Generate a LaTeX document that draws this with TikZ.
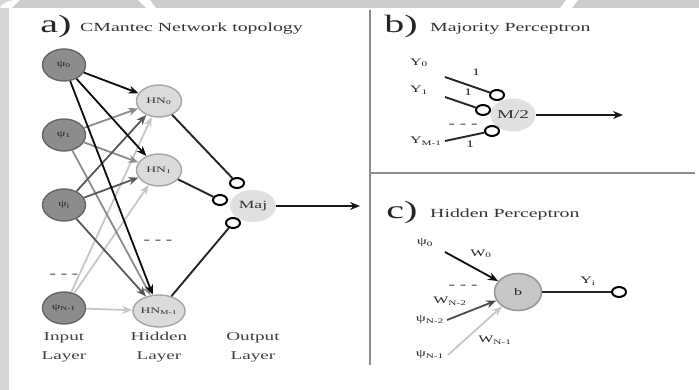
\documentclass[tikz,border=0pt]{standalone}
\usepackage{fontspec}
\setmainfont{Liberation Serif}
\usepackage{graphicx}
\usetikzlibrary{shapes.geometric,arrows.meta}
% the whole figure is set with horizontally widened glyphs
\newcommand\wide[1]{\scalebox{1.6}[1]{#1}}
\begin{document}
\begin{tikzpicture}[x=1pt,y=-1pt,
  inputnode/.style={ellipse, draw=black!60, line width=1.4pt, fill=black!45,
    minimum width=43pt, minimum height=32pt, inner sep=0pt,
    font=\fontsize{8.5}{8.5}\selectfont, text=black!85},
  hiddennode/.style={ellipse, draw=black!35, line width=1.4pt, fill=black!14,
    minimum width=45pt, minimum height=32pt, inner sep=0pt,
    font=\fontsize{8.5}{8.5}\selectfont, text=black!80},
  majnode/.style={ellipse, fill=black!12, minimum width=46pt, minimum height=32pt,
    inner sep=0pt, font=\fontsize{11}{11}\selectfont, text=black!80},
  biasnode/.style={ellipse, draw=black!40, line width=1.6pt, fill=black!22,
    minimum width=47pt, minimum height=37pt, inner sep=0pt,
    font=\fontsize{10}{10}\selectfont, text=black!85},
  port/.style={ellipse, draw=black, line width=2pt, fill=white,
    minimum width=14pt, minimum height=10pt, inner sep=0pt},
  edge/.style={line width=1.8pt, -{Stealth[length=10pt,width=8pt]}},
  wire/.style={line width=1.9pt, black!85},
  divider/.style={line width=2.8pt, black!45},
  bigletter/.style={font=\fontsize{25}{25}\selectfont, text=black!85, inner sep=0pt},
  titletext/.style={font=\fontsize{12.4}{12.4}\selectfont, text=black!80, inner sep=0pt, anchor=west},
  lbl/.style={font=\fontsize{10}{10}\selectfont, text=black!85, inner sep=0pt},
  smalllbl/.style={font=\fontsize{10}{10}\selectfont, text=black!85, inner sep=0pt},
  layerlbl/.style={font=\fontsize{12}{19}\selectfont, text=black!75, align=center, inner sep=0pt},
  dots/.style={font=\bfseries\fontsize{12}{12}\selectfont, text=black!75, inner sep=0pt}
]
\useasboundingbox (0,0) rectangle (699,390);
\fill[white] (0,0) rectangle (699,390);

% frame bands
\fill[black!20] (0,0) rectangle (699,8);
\fill[black!16] (0,0) rectangle (9,390);
\fill[white] (0,8) .. controls (2,4) and (6,1) .. (14,0) -- (20,0) -- (12,8) -- cycle;
\fill[white] (138,0) -- (150,0) -- (156,8) -- (146,8) -- cycle;
\fill[white] (566,0) -- (578,0) -- (572,8) -- (560,8) -- cycle;

% dividers between panels
\draw[divider] (370,10) -- (370,365);
\draw[divider] (370,173) -- (695,173);

% ---------------- a) network topology ----------------
\node[bigletter] (la) at (56,26) {\wide{a)}};
\node[titletext] (ta) at (80,29) {\wide{CMantec Network topology}};

\node[inputnode] (i0) at (64,65) {\wide{ψ\textsubscript{0}}};
\node[inputnode] (i1) at (64,135) {\wide{ψ\textsubscript{1}}};
\node[inputnode] (i2) at (64,205) {\wide{ψ\textsubscript{j}}};
\node[inputnode] (i3) at (64,308) {\wide{ψ\textsubscript{N-1}}};
\node[dots] (di) at (64,276) {\wide{- - -}};

\node[hiddennode] (h0) at (159,101) {\wide{HN\textsubscript{0}}};
\node[hiddennode] (h1) at (159,170) {\wide{HN\textsubscript{1}}};
\node[hiddennode] (h2) at (159,311) {\wide{HN\textsubscript{M-1}}};
\node[dots] (dh) at (158,242) {\wide{- - -}};

\node[majnode] (maj) at (253,206) {\wide{Maj}};
\node[port] (c0) at (237,183) {};
\node[port] (c1) at (220,200) {};
\node[port] (c2) at (233,223) {};

% input to hidden connections, lightest first
\foreach \t in {h0,h1,h2} \draw[edge,black!22] (i3) -- (\t);
\foreach \t in {h0,h1,h2} \draw[edge,black!45] (i1) -- (\t);
\foreach \t in {h0,h1,h2} \draw[edge,black!65] (i2) -- (\t);
\foreach \t in {h0,h1,h2} \draw[edge,black!95] (i0) -- (\t);

\draw[wire] (h0) -- (c0);
\draw[wire] (h1) -- (c1);
\draw[wire] (h2) -- (c2);

\coordinate (outa) at (360,206);
\draw[edge,black!90] (maj) -- (outa);

\node[layerlbl] (li) at (64,347) {\wide{Input}\\\wide{Layer}};
\node[layerlbl] (lh) at (159,347) {\wide{Hidden}\\\wide{Layer}};
\node[layerlbl] (lo) at (253,347) {\wide{Output}\\\wide{Layer}};

% ---------------- b) majority perceptron ----------------
\node[bigletter] (lb) at (401,26) {\wide{b)}};
\node[titletext] (tb) at (430,29) {\wide{Majority Perceptron}};

\node[majnode, minimum width=42pt, minimum height=33pt, font=\fontsize{12}{12}\selectfont] (m2) at (513,115) {\wide{M/2}};
\node[port] (p0) at (497,95) {};
\node[port] (p1) at (483,110) {};
\node[port] (p2) at (492,131) {};

\node[lbl] (y0) at (419,63) {\wide{Y\textsubscript{0}}};
\node[lbl] (y1) at (419,90) {\wide{Y\textsubscript{1}}};
\node[lbl] (y2) at (426,141) {\wide{Y\textsubscript{M-1}}};
\coordinate (s0) at (445,77);
\coordinate (s1) at (445,97);
\coordinate (s2) at (445,141);
\draw[wire] (s0) -- (p0);
\draw[wire] (s1) -- (p1);
\draw[wire] (s2) -- (p2);
\node[smalllbl] (w0) at (476,72) {\wide{1}};
\node[smalllbl] (w1) at (468,92) {\wide{1}};
\node[smalllbl] (w2) at (470,144) {\wide{1}};
\node[dots] (db) at (463,126) {\wide{- - -}};

\coordinate (outb) at (623,115);
\draw[edge,black!90] (m2) -- (outb);

% ---------------- c) hidden perceptron ----------------
\node[bigletter] (lc) at (402,212) {\wide{c)}};
\node[titletext] (tc) at (430,215) {\wide{Hidden Perceptron}};

\node[biasnode] (bn) at (518,292) {\wide{b}};
\node[lbl] (q0) at (425,243) {\wide{ψ\textsubscript{0}}};
\node[lbl] (q1) at (430,320) {\wide{ψ\textsubscript{N-2}}};
\node[lbl] (q2) at (430,355) {\wide{ψ\textsubscript{N-1}}};
\coordinate (r0) at (445,252);
\coordinate (r1) at (447,320);
\coordinate (r2) at (448,355);
\draw[edge,black!95] (r0) -- (bn);
\draw[edge,black!70] (r1) -- (bn);
\draw[edge,black!22] (r2) -- (bn);
\node[lbl] (v0) at (481,254) {\wide{W\textsubscript{0}}};
\node[lbl] (v1) at (450,301) {\wide{W\textsubscript{N-2}}};
\node[lbl] (v2) at (495,340) {\wide{W\textsubscript{N-1}}};
\node[dots] (dc) at (463,287) {\wide{- - -}};

\node[port] (yo) at (619,292) {};
\draw[wire] (bn) -- (yo);
\node[lbl] (yl) at (588,281) {\wide{Y\textsubscript{i}}};
\end{tikzpicture}
\end{document}
